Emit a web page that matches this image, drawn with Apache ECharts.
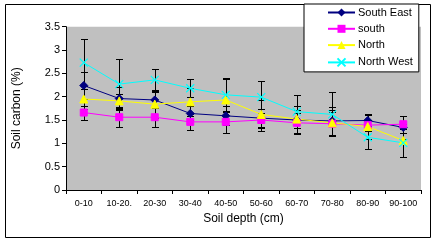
<!DOCTYPE html>
<html>
<head>
<meta charset="utf-8">
<script src="https://cdn.jsdelivr.net/npm/echarts@6/dist/echarts.min.js"></script>
<style>
  html, body { margin: 0; padding: 0; background: #fff; }
  #chart { width: 433px; height: 242px; }
</style>
</head>
<body>
<div id="chart"></div>
<script>
// depth classes and soil carbon (%) per aspect
var categories = ["0-10", "10-20.", "20-30", "30-40", "40-50", "50-60", "60-70", "70-80", "80-90", "90-100"];
var southEast = [2.24, 1.96, 1.93, 1.64, 1.59, 1.54, 1.50, 1.48, 1.49, 1.34];
var south     = [1.66, 1.56, 1.56, 1.46, 1.46, 1.50, 1.44, 1.42, 1.39, 1.41];
var north     = [1.95, 1.91, 1.84, 1.89, 1.93, 1.62, 1.52, 1.44, 1.36, 1.06];
var northWest = [2.73, 2.27, 2.36, 2.18, 2.04, 1.99, 1.68, 1.62, 1.13, 1.01];
// +/- error per point
var errSouthEast = [0.28, 0.25, 0.16, 0.15, 0.20, 0.20, 0.30, 0.30, 0.12, 0.25];
var errSouth     = [0.15, 0.22, 0.20, 0.17, 0.23, 0.24, 0.21, 0.26, 0.12, 0.18];
var errNorth     = [0.21, 0.15, 0.30, 0.30, 0.45, 0.30, 0.20, 0.28, 0.26, 0.35];
var errNorthWest = [0.50, 0.53, 0.23, 0.19, 0.37, 0.35, 0.36, 0.47, 0.25, 0.30];
var yTicks = [0, 0.5, 1, 1.5, 2, 2.5, 3, 3.5];

var font = "'Liberation Sans', Arial, sans-serif";

// error bar rows [index, low, high]
function errRows(vals, errs) {
  return vals.map(function (v, i) { return [i, v - errs[i], v + errs[i]]; });
}

function errorBar(vals, errs) {
  return {
    type: "custom",
    silent: true,
    z: 1,
    renderItem: function (params, api) {
      var x = api.value(0);
      var top = api.coord([x, api.value(2)]);
      var bot = api.coord([x, api.value(1)]);
      var cx = Math.round(top[0]) + 0.5;
      var y1 = Math.round(top[1]) + 0.5;
      var y2 = Math.round(bot[1]) + 0.5;
      var w = 3.5;
      var st = { stroke: "#000", lineWidth: 1 };
      return {
        type: "group",
        children: [
          { type: "line", shape: { x1: cx, y1: y1, x2: cx, y2: y2 }, style: st },
          { type: "line", shape: { x1: cx - w, y1: y1, x2: cx + w, y2: y1 }, style: st },
          { type: "line", shape: { x1: cx - w, y1: y2, x2: cx + w, y2: y2 }, style: st }
        ]
      };
    },
    data: errRows(vals, errs)
  };
}

function lineSeries(name, vals, color, symbol, size) {
  return {
    name: name,
    type: "line",
    data: vals,
    z: 3,
    symbol: symbol,
    symbolSize: size,
    showAllSymbol: true,
    lineStyle: { color: color, width: 1 },
    itemStyle: { color: color, borderColor: color },
    emphasis: { disabled: true }
  };
}

var chart = echarts.init(document.getElementById("chart"));
var option = {
  animation: false,
  textStyle: { fontFamily: font },
  grid: { left: 66, right: 12, top: 26.7, bottom: 52, show: true, backgroundColor: "#c0c0c0", borderWidth: 0 },
  graphic: [{
    type: "rect", z: -10, silent: true,
    shape: { x: 5.5, y: 4.5, width: 425, height: 233 },
    style: { fill: "#fff", stroke: "#000", lineWidth: 1 }
  }],
  legend: {
    data: ["South East", "south", "North", "North West"],
    orient: "vertical",
    left: 304, top: 4,
    width: 120,
    padding: [3, 6, 3, 23],
    itemWidth: 27, itemHeight: 10, itemGap: 5.3,
    backgroundColor: "#fff", borderColor: "#000", borderWidth: 1,
    textStyle: { fontFamily: font, fontSize: 11, color: "#000", padding: [0, 0, 0, -2] }
  },
  xAxis: {
    type: "category",
    data: categories,
    boundaryGap: true,
    name: "Soil depth (cm)",
    nameLocation: "middle",
    nameGap: 22,
    nameTextStyle: { fontFamily: font, fontSize: 12, color: "#000" },
    axisLine: { lineStyle: { color: "#000", width: 1 } },
    axisTick: { show: true, length: 4, lineStyle: { color: "#000" } },
    axisLabel: { fontFamily: font, fontSize: 9, color: "#000", margin: 9, interval: 0 },
    splitLine: { show: false }
  },
  yAxis: {
    type: "value",
    min: yTicks[0], max: yTicks[yTicks.length - 1], interval: 0.5,
    name: "Soil carbon (%)",
    nameLocation: "middle",
    nameGap: 43,
    nameRotate: 90,
    nameTextStyle: { fontFamily: font, fontSize: 12, color: "#000" },
    axisLine: { show: true, lineStyle: { color: "#000", width: 1 } },
    axisTick: { show: true, length: 4, lineStyle: { color: "#000" } },
    axisLabel: { fontFamily: font, fontSize: 11, color: "#000", margin: 6 },
    splitLine: { show: false }
  },
  series: [
    errorBar(southEast, errSouthEast),
    errorBar(south, errSouth),
    errorBar(north, errNorth),
    errorBar(northWest, errNorthWest),
    lineSeries("South East", southEast, "#000080", "diamond", 8),
    lineSeries("south", south, "#ff00ff", "rect", 7),
    lineSeries("North", north, "#ffff00", "triangle", 8),
    Object.assign(lineSeries("North West", northWest, "#00ffff", "path://M0,0L10,10M10,0L0,10", 8), {
      itemStyle: { color: "none", borderColor: "#00ffff", borderWidth: 1.2 }
    })
  ]
};
chart.setOption(option);
</script>
</body>
</html>
